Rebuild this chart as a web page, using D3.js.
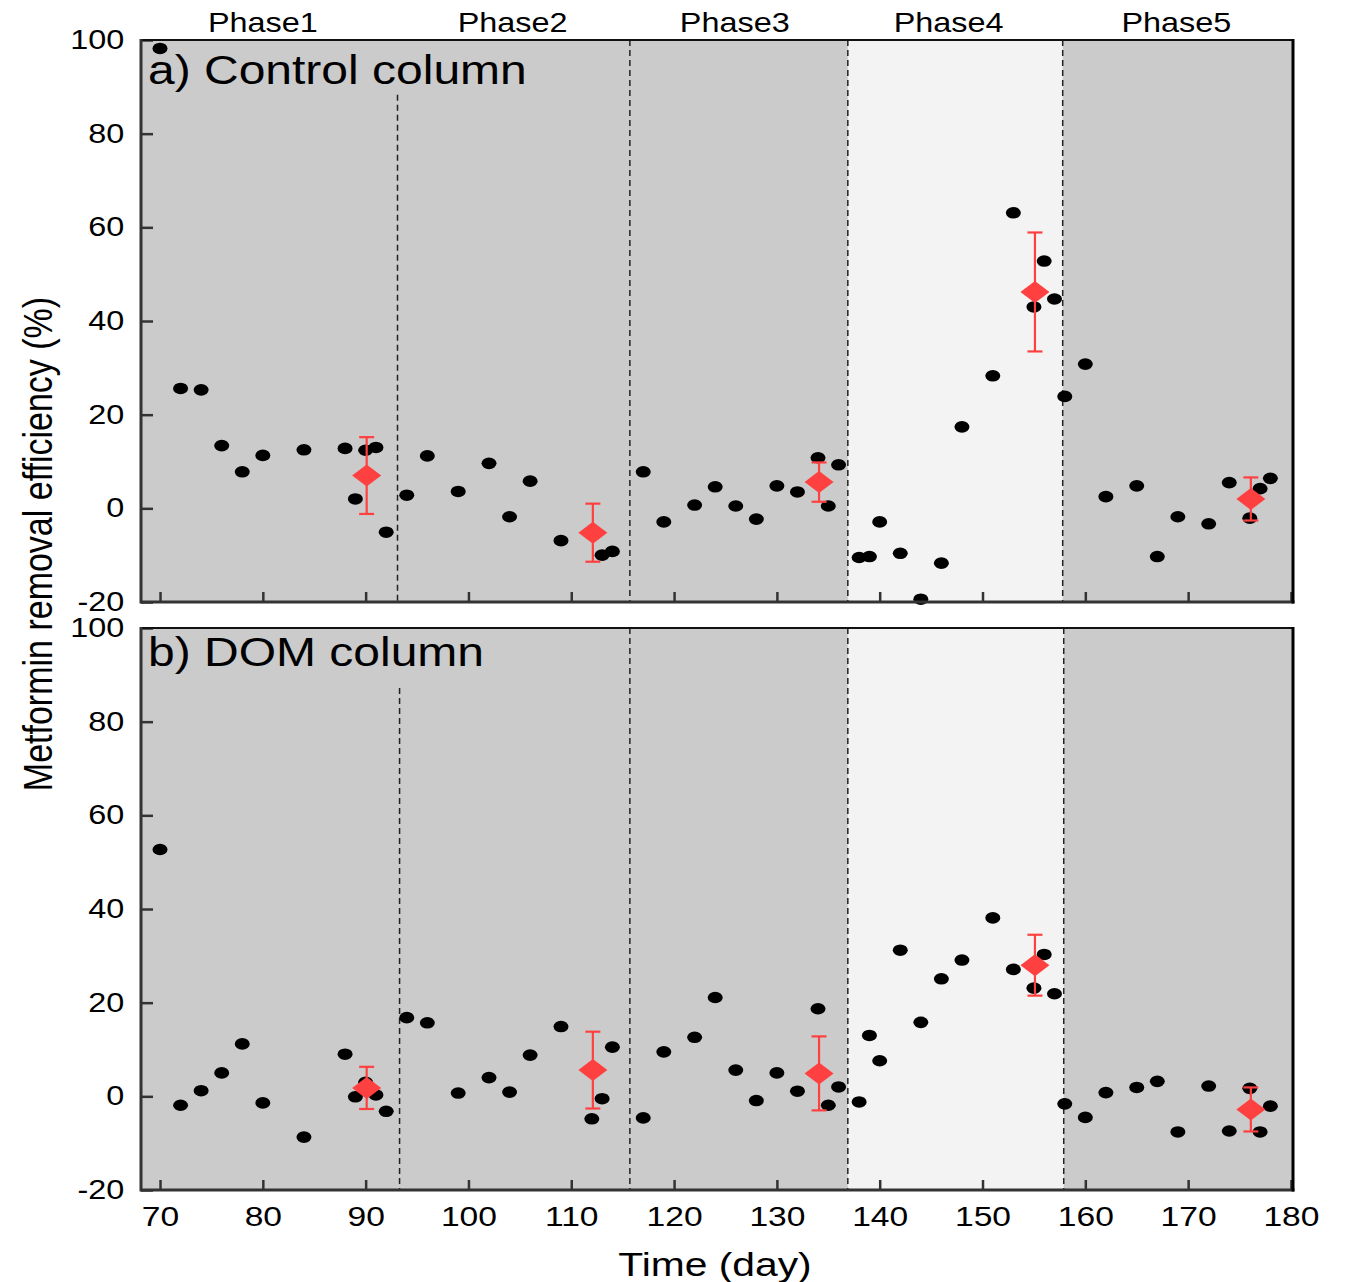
<!DOCTYPE html>
<html>
<head>
<meta charset="utf-8">
<script src="https://cdn.jsdelivr.net/npm/d3@7"></script>
<style>
  body { margin: 0; background: #fff; }
  text { font-family: "Liberation Sans", Arial, sans-serif; fill: #000; }
</style>
</head>
<body>
<div id="chart"></div>
<script>
// sampling days
var days = [70, 72, 74, 76, 78, 80, 84, 88, 89, 90, 91, 92,
            94, 96, 99, 102, 104, 106, 109, 112, 113, 114,
            117, 119, 122, 124, 126, 128, 130, 132, 134, 135, 136,
            138, 139, 140, 142, 144, 146, 148, 151, 153, 155, 156, 157,
            158, 160, 162, 165, 167, 169, 172, 174, 176, 177, 178];

// a) control column removal efficiency (%), null = no visible point
var controlVals = [98.2, 25.6, 25.3, 13.4, 7.8, 11.3, 12.5, 12.8, 2.0, 12.4, 13.0, -5.1,
                   2.8, 11.2, 3.6, 9.6, -1.8, 5.8, -6.9, null, -10.0, -9.2,
                   7.8, -2.9, 0.7, 4.6, 0.5, -2.3, 4.8, 3.5, 10.8, 0.5, 9.3,
                   -10.5, -10.3, -2.9, -9.6, -19.4, -11.7, 17.4, 28.3, 63.1, 43.0, 52.8, 44.7,
                   23.9, 30.8, 2.5, 4.8, -10.3, -1.8, -3.3, 5.5, -2.1, 4.2, 6.4];

// b) DOM column removal efficiency (%)
var domVals = [52.7, -1.9, 1.2, 5.0, 11.2, -1.4, -8.7, 9.0, -0.1, 3.0, 0.3, -3.2,
               16.8, 15.7, 0.7, 4.0, 0.9, 8.8, 14.9, -4.8, -0.5, 10.5,
               -4.6, 9.5, 12.6, 21.1, 5.6, -0.9, 5.0, 1.1, 18.7, -1.9, 2.0,
               -1.2, 13.0, 7.6, 31.2, 15.8, 25.1, 29.1, 38.1, 27.1, 23.1, 30.3, 21.9,
               -1.6, -4.5, 0.8, 1.9, 3.2, -7.6, 2.2, -7.4, 1.7, -7.6, -2.1];

// phase means with error bars
var meanDays = [90.1, 112.1, 134.1, 155.1, 176.1];
var controlMean = [7.0, -5.2, 5.6, 46.2, 2.0];
var controlErr = [8.2, 6.2, 4.2, 12.7, 4.6];
var domMean = [1.8, 5.6, 4.9, 28.0, -2.8];
var domErr = [4.5, 8.2, 7.9, 6.5, 4.7];

// phases
var phaseNames = ['Phase1', 'Phase2', 'Phase3', 'Phase4', 'Phase5'];
var phaseLabelDays = [80.0, 104.3, 125.9, 146.7, 168.85];
var breaksA = [93.1, 115.7, 136.9, 157.8];
var breaksB = [93.3, 115.7, 136.9, 157.9];

var xTicks = [70, 80, 90, 100, 110, 120, 130, 140, 150, 160, 170, 180];
var yTicks = [-20, 0, 20, 40, 60, 80, 100];

var width = 1350, height = 1282;
var sx = 1.2; // horizontal stretch of the original figure

var svg = d3.select('#chart').append('svg')
    .attr('width', width)
    .attr('height', height);

var xScale = d3.scaleLinear()
    .domain([68.15, 180.2])
    .range([141, 1293]);

function stretchText(g, x, y, str, size, anchor, rot) {
    return g.append('text')
        .attr('transform', `translate(${x},${y}) scale(${sx},1)` + (rot ? ` rotate(${rot})` : ''))
        .style('font-size', size + 'px')
        .style('text-anchor', anchor)
        .text(str);
}

function drawPanel(p) {
    var g = svg.append('g');
    var yScale = d3.scaleLinear().domain([-20, 100]).range([p.bottom, p.top]);
    var x0 = xScale.range()[0], x1 = xScale.range()[1];

    // phase backgrounds
    g.append('rect')
        .attr('x', x0).attr('y', p.top)
        .attr('width', x1 - x0).attr('height', p.bottom - p.top)
        .attr('fill', '#cbcbcb');
    g.append('rect')
        .attr('x', xScale(p.breaks[2])).attr('y', p.top)
        .attr('width', xScale(p.breaks[3]) - xScale(p.breaks[2]))
        .attr('height', p.bottom - p.top)
        .attr('fill', '#f3f3f3');

    // dashed phase dividers
    g.selectAll('.div')
        .data(p.breaks)
        .enter()
        .append('line')
        .attr('x1', d => xScale(d)).attr('x2', d => xScale(d))
        .attr('y1', (d, i) => i === 0 ? yScale(p.firstBreakTop) : p.top)
        .attr('y2', p.bottom)
        .attr('stroke', '#222')
        .attr('stroke-width', 1.5)
        .attr('stroke-dasharray', '6,4');

    // x axis (ticks pointing inward)
    var xAxis = d3.axisBottom(xScale)
        .tickValues(xTicks)
        .tickFormat(d => String(d))
        .tickSizeInner(-10)
        .tickSizeOuter(0)
        .tickPadding(16);
    var xg = g.append('g')
        .attr('transform', `translate(0, ${p.bottom})`)
        .call(xAxis);
    xg.select('.domain').remove();
    xg.selectAll('.tick line').attr('stroke', '#333').attr('stroke-width', 2.5);
    xg.selectAll('.tick text')
        .attr('transform', `scale(${sx},1)`)
        .style('font-size', '28px')
        .style('font-family', '"Liberation Sans", Arial, sans-serif')
        .attr('fill', '#000');
    if (!p.showXLabels) xg.selectAll('.tick text').remove();

    // y axis
    var yAxis = d3.axisLeft(yScale)
        .tickValues(yTicks)
        .tickFormat(d => String(d))
        .tickSizeInner(-12)
        .tickSizeOuter(0)
        .tickPadding(14);
    var yg = g.append('g')
        .attr('transform', `translate(${x0}, 0)`)
        .call(yAxis);
    yg.select('.domain').remove();
    yg.selectAll('.tick line').attr('stroke', '#333').attr('stroke-width', 2.5);
    yg.selectAll('.tick text')
        .attr('transform', `scale(${sx},1)`)
        .style('font-size', '27px')
        .style('font-family', '"Liberation Sans", Arial, sans-serif')
        .attr('fill', '#000');

    // data points
    var pts = days.map((d, i) => ({ day: d, v: p.values[i] })).filter(d => d.v !== null);
    g.selectAll('.pt')
        .data(pts)
        .enter()
        .append('ellipse')
        .attr('cx', d => xScale(d.day))
        .attr('cy', d => yScale(d.v))
        .attr('rx', 7.5)
        .attr('ry', 5.8)
        .attr('fill', '#000');

    // mean +/- error
    var means = meanDays.map((d, i) => ({ day: d, m: p.means[i], e: p.errs[i] }));
    var red = '#ff4040';
    var eb = g.selectAll('.eb').data(means).enter().append('g');
    eb.append('line')
        .attr('x1', d => xScale(d.day)).attr('x2', d => xScale(d.day))
        .attr('y1', d => yScale(d.m + d.e)).attr('y2', d => yScale(d.m - d.e))
        .attr('stroke', red).attr('stroke-width', 2.2);
    eb.append('line')
        .attr('x1', d => xScale(d.day) - 7.5).attr('x2', d => xScale(d.day) + 7.5)
        .attr('y1', d => yScale(d.m + d.e)).attr('y2', d => yScale(d.m + d.e))
        .attr('stroke', red).attr('stroke-width', 2.2);
    eb.append('line')
        .attr('x1', d => xScale(d.day) - 7.5).attr('x2', d => xScale(d.day) + 7.5)
        .attr('y1', d => yScale(d.m - d.e)).attr('y2', d => yScale(d.m - d.e))
        .attr('stroke', red).attr('stroke-width', 2.2);
    eb.append('path')
        .attr('d', d => {
            var cx = xScale(d.day), cy = yScale(d.m);
            return `M${cx - 14.5},${cy} L${cx},${cy - 11} L${cx + 14.5},${cy} L${cx},${cy + 11} Z`;
        })
        .attr('fill', red);

    // frame
    g.append('line').attr('x1', x0).attr('x2', x1).attr('y1', p.top).attr('y2', p.top)
        .attr('stroke', '#111').attr('stroke-width', 2);
    g.append('line').attr('x1', x0).attr('x2', x1 + 1.5).attr('y1', p.bottom).attr('y2', p.bottom)
        .attr('stroke', '#333').attr('stroke-width', 3);
    g.append('line').attr('x1', x0).attr('x2', x0).attr('y1', p.top - 1).attr('y2', p.bottom + 1.5)
        .attr('stroke', '#333').attr('stroke-width', 3);
    g.append('line').attr('x1', x1).attr('x2', x1).attr('y1', p.top - 1).attr('y2', p.bottom + 1.5)
        .attr('stroke', '#000').attr('stroke-width', 3);

    // panel title
    stretchText(g, 148, p.titleY, p.title, 40, 'start');
}

drawPanel({ top: 40, bottom: 602, values: controlVals, means: controlMean, errs: controlErr,
            breaks: breaksA, firstBreakTop: 88.3, title: 'a) Control column', titleY: 84, showXLabels: false });
drawPanel({ top: 628, bottom: 1190, values: domVals, means: domMean, errs: domErr,
            breaks: breaksB, firstBreakTop: 87.2, title: 'b) DOM column', titleY: 666, showXLabels: true });

// phase labels
phaseNames.forEach(function (name, i) {
    stretchText(svg, xScale(phaseLabelDays[i]), 32, name, 27, 'middle');
});

// axis titles
stretchText(svg, 52, 544, 'Metformin removal efficiency (%)', 34, 'middle', -90);
stretchText(svg, 715, 1276, 'Time (day)', 34, 'middle');
</script>
</body>
</html>
